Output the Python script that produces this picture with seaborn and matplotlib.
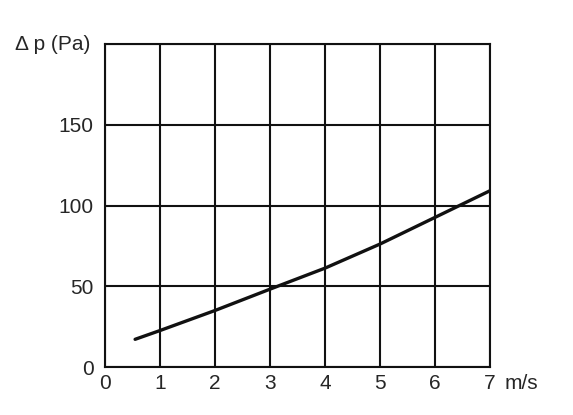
import matplotlib
matplotlib.use("Agg")
import matplotlib.pyplot as plt
import seaborn as sns
import pandas as pd

# pressure drop curve
velocity = [0.55, 1.0, 2.0, 3.0, 4.0, 5.0, 6.0, 7.0]
pressure = [17.3, 22.7, 35.1, 48.3, 61.3, 76.2, 92.7, 109.2]
x_ticks = [0, 1, 2, 3, 4, 5, 6, 7]
y_ticks = [0, 50, 100, 150, 200]

sns.set_style("white")
plt.rcParams['font.family'] = ['Liberation Sans', 'DejaVu Sans']

df = pd.DataFrame({'v': velocity, 'dp': pressure})

fig = plt.figure(figsize=(5.73, 4.15), dpi=100)
ax = fig.add_axes([0.183, 0.115, 0.672, 0.779])

for x in x_ticks:
    ax.axvline(x, color='#111111', lw=1.5, zorder=1)
for y in y_ticks:
    ax.axhline(y, color='#111111', lw=1.5, zorder=1)

sns.lineplot(data=df, x='v', y='dp', ax=ax, color='#111111', lw=2.4, zorder=3)

ax.set_xlim(0, 7)
ax.set_ylim(0, 200)
ax.set_xticks(x_ticks)
ax.set_yticks(y_ticks[:-1])
ax.set_xticklabels([str(t) for t in x_ticks], fontsize=15)
ax.set_yticklabels([str(t) for t in y_ticks[:-1]], fontsize=15)
ax.tick_params(axis='x', length=0, pad=5)
ax.tick_params(axis='y', length=0, pad=8)
ax.set_xlabel('')
ax.set_ylabel('')
for s in ax.spines.values():
    s.set_color('#111111')
    s.set_linewidth(1.5)

fig.text(0.026, 0.893, 'Δ p (Pa)', fontsize=15, va='center', ha='left')
fig.text(0.881, 0.076, 'm/s', fontsize=15, va='center', ha='left')

fig.savefig('out.png', dpi=100)
